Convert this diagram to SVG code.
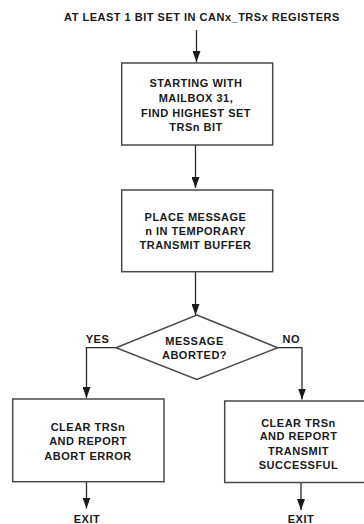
<svg xmlns="http://www.w3.org/2000/svg" width="364" height="524" viewBox="0 0 364 524">
<style>
text{font-family:"Liberation Sans",Arial,sans-serif;font-weight:bold;font-size:11px;letter-spacing:0.5px;fill:#1a1a1a;text-anchor:middle}
.box{fill:#fff;stroke:#4a4a4a;stroke-width:1.5}
.con{fill:none;stroke:#2a2a2a;stroke-width:1.3}
</style>
<defs>
<marker id="ah" markerUnits="userSpaceOnUse" markerWidth="11" markerHeight="8" viewBox="0 0 11 8" refX="11" refY="4" orient="auto">
<path d="M0,0 L11,4 L0,8 z" fill="#1a1a1a"/>
</marker>
</defs>
<rect width="364" height="524" fill="#fff"/>
<g id="title"><text x="202" y="20.7">AT LEAST 1 BIT SET IN CANx_TRSx REGISTERS</text></g>
<g id="connectors">
<path class="con" d="M196.5,30 V62" marker-end="url(#ah)"/>
<path class="con" d="M195.5,145 V188" marker-end="url(#ah)"/>
<path class="con" d="M195.5,272 V315" marker-end="url(#ah)"/>
<path class="con" d="M116,347.7 H86.5 V398" marker-end="url(#ah)"/>
<path class="con" d="M277.7,347.7 H302 V399.5" marker-end="url(#ah)"/>
<path class="con" d="M86.5,481.7 V508.5" marker-end="url(#ah)"/>
<path class="con" d="M301,482.5 V510" marker-end="url(#ah)"/>
</g>
<g id="find">
<rect class="box" x="121.7" y="63" width="151" height="82"/>
<text x="196" y="87.3">STARTING WITH</text>
<text x="196" y="101.8">MAILBOX 31,</text>
<text x="196" y="116.5">FIND HIGHEST SET</text>
<text x="196" y="131">TRSn BIT</text>
</g>
<g id="place">
<rect class="box" x="121.7" y="190" width="151" height="81.7"/>
<text x="195.5" y="220.7">PLACE MESSAGE</text>
<text x="195.5" y="235">n IN TEMPORARY</text>
<text x="195.5" y="249.3">TRANSMIT BUFFER</text>
</g>
<g id="decision">
<polygon class="box" points="196.8,315 277.7,347.7 196.8,379.5 116,347.7"/>
<text x="194.5" y="345">MESSAGE</text>
<text x="194.5" y="358.5">ABORTED?</text>
</g>
<g id="yes-label"><text x="97.5" y="342.7">YES</text></g>
<g id="no-label"><text x="291.3" y="342.7">NO</text></g>
<g id="abort">
<rect class="box" x="12.7" y="399" width="151.3" height="82.7"/>
<text x="88" y="431">CLEAR TRSn</text>
<text x="88" y="445.3">AND REPORT</text>
<text x="88" y="460">ABORT ERROR</text>
</g>
<g id="success">
<rect class="box" x="224.7" y="401" width="151" height="81.5"/>
<text x="298.5" y="426.7">CLEAR TRSn</text>
<text x="298.5" y="440.3">AND REPORT</text>
<text x="298.5" y="454.5">TRANSMIT</text>
<text x="298.5" y="468.7">SUCCESSFUL</text>
</g>
<g id="exit-left"><text x="87" y="523.3">EXIT</text></g>
<g id="exit-right"><text x="301" y="523.3">EXIT</text></g>
</svg>
